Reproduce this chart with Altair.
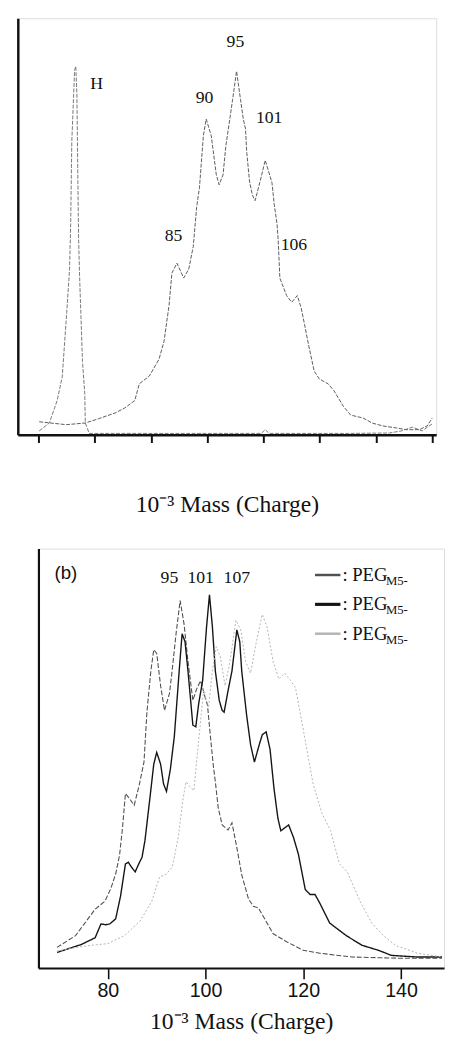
import altair as alt
import pandas as pd

# ---------------- Panel (a) data ----------------
a_h_mass = [60.1, 61.9, 63.3, 64.2, 65.0, 65.5, 65.7, 65.9, 66.4, 66.6, 66.8, 67.1, 67.3, 67.8, 68.2,
            68.3, 69.0, 75.0, 90.0, 99.6, 100.3, 101.0, 115.0, 122.4, 124.5, 126.5, 128.2, 130.0]
a_h_val = [0.9, 2.8, 8.2, 13.9, 29.4, 39.8, 50.6, 70.4, 87.5, 88.5, 82.1, 47.5, 37.4, 17.6, 9.9,
           2.8, 0.3, 0.3, 0.3, 0.3, 1.2, 0.3, 0.3, 0.4, 0.9, 1.8, 0.9, 2.6]

a_main_mass = [60.1, 64.9, 68.3, 70.6, 73.6, 75.3, 77.1, 77.9, 79.7, 81.4, 82.3, 83.2, 83.7, 84.6,
               85.8, 86.7, 87.5, 88.1, 88.6, 89.3, 89.8, 90.7, 91.6, 92.1, 92.8, 93.3, 94.0, 94.5,
               95.2, 95.9, 96.4, 96.8, 97.0, 97.5, 98.0, 98.5, 99.4, 100.3, 101.5, 101.9, 102.4,
               102.6, 102.9, 104.1, 105.0, 106.0, 106.7, 107.3, 108.0, 109.0, 109.9, 111.5, 112.5,
               114.2, 115.5, 117.7, 119.3, 121.2, 123.7, 125.4, 127.7, 129.1, 130.0]
a_main_val = [3.1, 2.4, 2.8, 3.8, 5.2, 6.4, 8.2, 12.2, 14.1, 18.1, 22.4, 31.1, 38.8, 41.2,
              37.6, 39.8, 45.2, 54.6, 59.3, 71.8, 75.8, 71.8, 62.4, 60.0, 62.4, 69.4, 75.8, 80.5,
              87.3, 80.5, 75.8, 73.4, 68.0, 60.9, 57.6, 56.2, 60.9, 65.9, 60.5, 55.3, 50.6,
              46.8, 37.6, 33.4, 31.8, 33.4, 30.4, 26.4, 21.6, 15.3, 13.4, 12.2, 10.6,
              6.8, 4.7, 4.0, 2.8, 2.1, 1.6, 1.2, 1.2, 2.1, 4.0]

a_lab_text = ["H", "85", "90", "95", "101", "106"]
a_lab_mass = [70.3, 84.0, 89.5, 95.0, 101.0, 105.4]
a_lab_val = [84.2, 47.8, 80.9, 94.4, 76.0, 45.6]
a_ticks = [60, 70, 80, 90, 100, 110, 120, 130]

# ---------------- Panel (b) data ----------------
b1_mass = [69.6, 73.4, 77.4, 79.4, 80.6, 81.6, 82.4, 83.0, 83.6, 84.4, 85.4, 86.4, 87.4, 88.0,
           88.8, 89.4, 90.0, 90.8, 91.6, 92.6, 93.0, 94.0, 94.8, 95.6, 96.4, 97.4, 98.2, 99.0,
           99.8, 100.4, 101.0, 101.6, 102.0, 102.6, 103.4, 104.6, 105.4, 106.4, 107.4, 108.8,
           109.8, 110.8, 112.0, 113.8, 116.8, 120.0, 123.4, 130.0, 140.0, 148.4]
b1_val = [4.9, 7.7, 14.0, 15.9, 18.9, 22.4, 26.9, 33.4, 41.6, 40.4, 38.8, 43.5, 49.1, 61.0,
          70.8, 75.9, 75.0, 67.3, 61.4, 65.4, 69.2, 80.1, 87.6, 82.0, 73.1, 63.8, 66.6, 68.5,
          65.0, 62.6, 55.1, 48.1, 44.4, 38.1, 34.1, 32.9, 34.6, 28.7, 22.2, 16.4,
          14.7, 14.3, 11.9, 8.2, 6.1, 4.2, 3.5, 2.6, 2.3, 2.3]

b2_mass = [69.6, 74.6, 77.4, 78.6, 79.6, 80.4, 81.6, 82.6, 83.6, 84.2, 84.8, 85.6, 86.4, 87.0,
           87.6, 88.6, 89.4, 90.0, 90.8, 91.4, 92.0, 92.8, 93.6, 94.6, 95.2, 95.8, 96.4, 97.0,
           97.4, 98.0, 98.6, 99.4, 100.2, 100.8, 101.4, 102.0, 102.8, 103.4, 103.8, 104.6,
           105.4, 106.4, 107.0, 107.4, 108.4, 109.2, 110.0, 111.0, 111.6, 112.4, 113.2, 114.0,
           114.8, 115.4, 116.2, 117.0, 118.0, 119.0, 120.4, 121.4, 122.4, 123.4, 125.4, 128.8,
           132.0, 135.4, 138.0, 143.4, 148.4]
b2_val = [3.7, 5.6, 7.2, 10.5, 10.3, 10.5, 11.7, 17.1, 24.8, 25.2, 24.1, 22.9, 25.0, 26.4,
          30.4, 40.4, 48.6, 51.4, 48.6, 43.9, 42.1, 47.4, 55.1, 70.8, 79.7, 77.8, 70.8, 63.1,
          57.9, 57.5, 63.1, 68.5, 81.3, 89.0, 81.3, 70.8, 63.8, 61.4, 61.0, 66.1,
          70.8, 80.6, 77.8, 70.8, 60.3, 53.3, 49.1, 53.3, 55.6, 56.3, 52.1, 42.8,
          35.7, 32.7, 33.4, 34.1, 31.1, 27.1, 18.7, 17.5, 17.5, 15.4, 10.7, 7.7,
          5.4, 4.2, 3.0, 2.6, 2.6]

b3_mass = [69.6, 72.6, 76.6, 80.0, 83.4, 86.6, 89.0, 90.6, 92.0, 93.2, 94.4, 95.4, 96.0, 96.8,
           97.6, 98.6, 99.6, 100.6, 101.4, 102.2, 103.0, 104.0, 105.0, 106.2, 107.2, 108.2,
           109.2, 110.4, 111.6, 112.6, 113.8, 115.0, 116.2, 117.4, 118.4, 120.0, 122.0, 123.8,
           125.6, 127.4, 129.0, 131.6, 134.0, 136.4, 138.8, 143.4, 148.4]
b3_val = [4.0, 4.7, 5.4, 5.8, 7.7, 11.2, 15.9, 21.7, 22.4, 24.1, 31.1, 40.4, 44.4, 43.2,
          42.3, 54.4, 66.1, 62.1, 70.8, 76.6, 74.3, 67.3, 73.1, 82.9, 80.6, 73.1,
          70.3, 77.8, 84.3, 81.3, 73.1, 68.9, 70.3, 68.5, 66.8, 56.8, 43.9, 36.9,
          32.7, 24.8, 22.9, 15.9, 10.7, 7.7, 5.4, 3.5, 2.6]

b_peak_text = ["95", "101", "107"]
b_peak_mass = [92.6, 99.0, 106.4]
b_peak_val = [93.0, 93.0, 93.0]

b_ticks = [80, 100, 120, 140]
b_series = ["s1", "s2", "s3"]
b_colors = ["#505050", "#141414", "#b4b4b4"]
b_widths = [1.1, 1.4, 1.0]
b_dashes = [[5, 2], [1, 0], [2, 2]]

leg_val = [93.7, 86.7, 79.7]
leg_x0 = [122.4, 122.4, 122.4]
leg_x1 = [127.6, 127.6, 127.6]
leg_text_mass = [128.0, 128.0, 128.0]
leg_main = [": PEG", ": PEG", ": PEG"]
leg_sub = ["M5-", "M5-", "M5-"]
leg_sub_mass = [136.9, 136.9, 136.9]
leg_widths = [2.5, 3.2, 2.5]

SERIF = "Liberation Serif"
SANS = "Liberation Sans"
INK = "#111111"

# ---------------- Panel (a) chart ----------------
xs_a = alt.Scale(domain=[56.3, 130.7], nice=False, zero=False)
ys_a = alt.Scale(domain=[0, 100], nice=False)

x_axis_a = alt.Axis(values=a_ticks, labels=False, tickSize=8, tickWidth=2, tickColor=INK,
                    domainColor=INK, domainWidth=2.5, grid=False,
                    title="10⁻³ Mass (Charge)", titleFont=SERIF, titleFontSize=24,
                    titleFontWeight="normal", titleColor=INK, titlePadding=50)
y_axis_a = alt.Axis(labels=False, ticks=False, grid=False, domainColor=INK, domainWidth=2.5)

h_df = pd.DataFrame({"m": a_h_mass, "v": a_h_val})
main_df = pd.DataFrame({"m": a_main_mass, "v": a_main_val})
alab_df = pd.DataFrame({"m": a_lab_mass, "v": a_lab_val, "t": a_lab_text})

h_line = alt.Chart(h_df).mark_line(color="#777777", strokeWidth=1, strokeDash=[4, 1.5]).encode(
    x=alt.X("m:Q", scale=xs_a, axis=x_axis_a),
    y=alt.Y("v:Q", scale=ys_a, axis=y_axis_a, title=None),
)
main_line = alt.Chart(main_df).mark_line(color="#5c5c5c", strokeWidth=1, strokeDash=[4, 1.5]).encode(
    x=alt.X("m:Q", scale=xs_a), y=alt.Y("v:Q", scale=ys_a)
)
a_text = alt.Chart(alab_df).mark_text(font=SERIF, fontSize=18, color=INK).encode(
    x=alt.X("m:Q", scale=xs_a), y=alt.Y("v:Q", scale=ys_a), text="t:N"
)
top = alt.layer(h_line, main_line, a_text).properties(width=426, height=424)

# ---------------- Panel (b) chart ----------------
xs_b = alt.Scale(domain=[65.8, 148.8], nice=False, zero=False)
ys_b = alt.Scale(domain=[0, 100], nice=False)
x_axis_b = alt.Axis(values=b_ticks, tickSize=11, tickWidth=1.6, tickColor=INK,
                    domainColor=INK, domainWidth=2, grid=False,
                    labelFont=SANS, labelFontSize=20, labelColor=INK, labelPadding=2,
                    title="10⁻³ Mass (Charge)", titleFont=SERIF, titleFontSize=24,
                    titleFontWeight="normal", titleColor=INK, titlePadding=10)
y_axis_b = alt.Axis(labels=False, ticks=False, grid=False, domainColor=INK, domainWidth=2.2)

rows = []
for s, ms, vs in zip(b_series, [b1_mass, b2_mass, b3_mass], [b1_val, b2_val, b3_val]):
    for m, v in zip(ms, vs):
        rows.append({"s": s, "m": m, "v": v})
b_df = pd.DataFrame(rows)

b_layers = []
for i, s in enumerate(b_series):
    layer = alt.Chart(b_df[b_df.s == s]).mark_line(
        color=b_colors[i], strokeWidth=b_widths[i], strokeDash=b_dashes[i]
    ).encode(
        x=alt.X("m:Q", scale=xs_b, axis=x_axis_b if i == 0 else alt.Axis(values=b_ticks)),
        y=alt.Y("v:Q", scale=ys_b, axis=y_axis_b, title=None),
    )
    b_layers.append(layer)

peak_df = pd.DataFrame({"m": b_peak_mass, "v": b_peak_val, "t": b_peak_text})
peak_text = alt.Chart(peak_df).mark_text(font=SERIF, fontSize=18, color=INK).encode(
    x=alt.X("m:Q", scale=xs_b), y=alt.Y("v:Q", scale=ys_b), text="t:N"
)
panel_df = pd.DataFrame({"m": [71.4], "v": [94.2], "t": ["(b)"]})
panel_text = alt.Chart(panel_df).mark_text(font=SANS, fontSize=19, color=INK).encode(
    x=alt.X("m:Q", scale=xs_b), y=alt.Y("v:Q", scale=ys_b), text="t:N"
)

leg_df = pd.DataFrame({"s": b_series, "x0": leg_x0, "x1": leg_x1, "v": leg_val,
                       "tm": leg_text_mass, "main": leg_main, "sm": leg_sub_mass,
                       "sub": leg_sub, "w": leg_widths})
leg_rule = alt.Chart(leg_df).mark_rule().encode(
    x=alt.X("x0:Q", scale=xs_b), x2="x1:Q", y=alt.Y("v:Q", scale=ys_b),
    color=alt.Color("s:N", scale=alt.Scale(domain=b_series, range=b_colors), legend=None),
    strokeWidth=alt.StrokeWidth("w:Q", scale=None, legend=None),
)
leg_main_text = alt.Chart(leg_df).mark_text(font=SERIF, fontSize=19, color=INK, align="left").encode(
    x=alt.X("tm:Q", scale=xs_b), y=alt.Y("v:Q", scale=ys_b), text="main:N"
)
leg_sub_text = alt.Chart(leg_df).mark_text(font=SERIF, fontSize=13, color=INK, align="left", dy=6).encode(
    x=alt.X("sm:Q", scale=xs_b), y=alt.Y("v:Q", scale=ys_b), text="sub:N"
)

bottom = alt.layer(*b_layers, peak_text, panel_text, leg_rule, leg_main_text, leg_sub_text).properties(
    width=413, height=427
)

spacer = alt.Chart(pd.DataFrame({"z": [0]})).mark_point(opacity=0).properties(width=20, height=427)

chart = alt.vconcat(
    top,
    alt.hconcat(spacer, bottom, spacing=0),
    spacing=31,
).properties(
    padding={"left": 9, "top": 0, "right": 0, "bottom": 0}
).configure_view(stroke=None).configure(background="white")

chart.save("out.html", embed_options={"renderer": "svg", "actions": False})
